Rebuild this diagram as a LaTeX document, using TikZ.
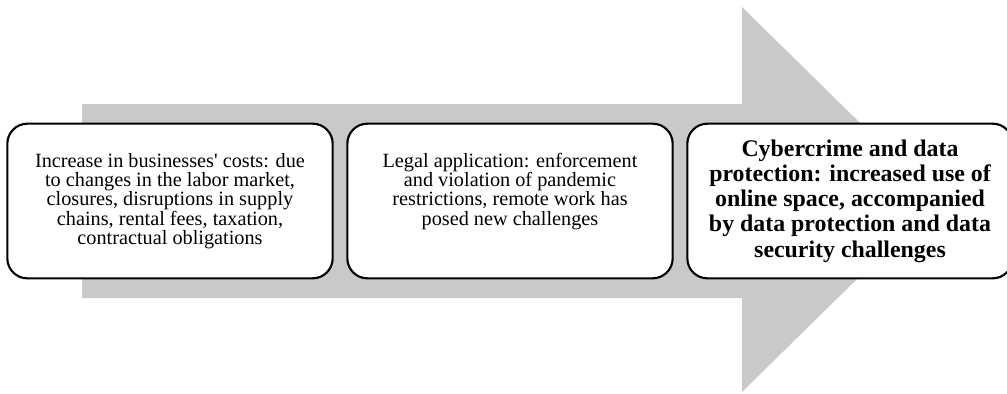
\documentclass[tikz,border=0pt]{standalone}
\usepackage{fontspec}
\setmainfont{Liberation Serif}
\usetikzlibrary{positioning}

\definecolor{arrowgray}{RGB}{201,201,201}
\tikzstyle{stage} = [draw, line width=1.6pt, fill=white, rectangle,
    rounded corners=15pt, minimum height=116pt, minimum width=244pt,
    inner sep=2pt, align=center, font=\fontsize{15.2}{14.4}\selectfont]
\tikzstyle{laststage} = [stage, font=\fontsize{17.9}{18.9}\selectfont\bfseries]

\begin{document}
\begin{tikzpicture}[x=0.75pt, y=-0.75pt, node distance=255pt]
    \useasboundingbox (0,0) rectangle (1007,393);
    % big grey arrow behind the boxes
    \fill [arrowgray] (82,104) -- (742,104) -- (742,7) -- (938,199.5)
        -- (742,392) -- (742,298) -- (82,298) -- cycle;

    \node [stage] (costs) at (170,201) {Increase in businesses\textquotesingle{} costs: due\\
        to changes in the labor market,\\ closures, disruptions in supply\\
        chains, rental fees, taxation,\\ contractual obligations};
    \node [stage, right of=costs, text depth=17.7pt] (legal) {Legal application: enforcement\\
        and violation of pandemic\\ restrictions, remote work has\\
        posed new challenges};
    \node [laststage, right of=legal] (cyber) {Cybercrime and data\\
        protection: increased use of\\ online space, accompanied\\
        by data protection and data\\ security challenges};
\end{tikzpicture}
\end{document}
